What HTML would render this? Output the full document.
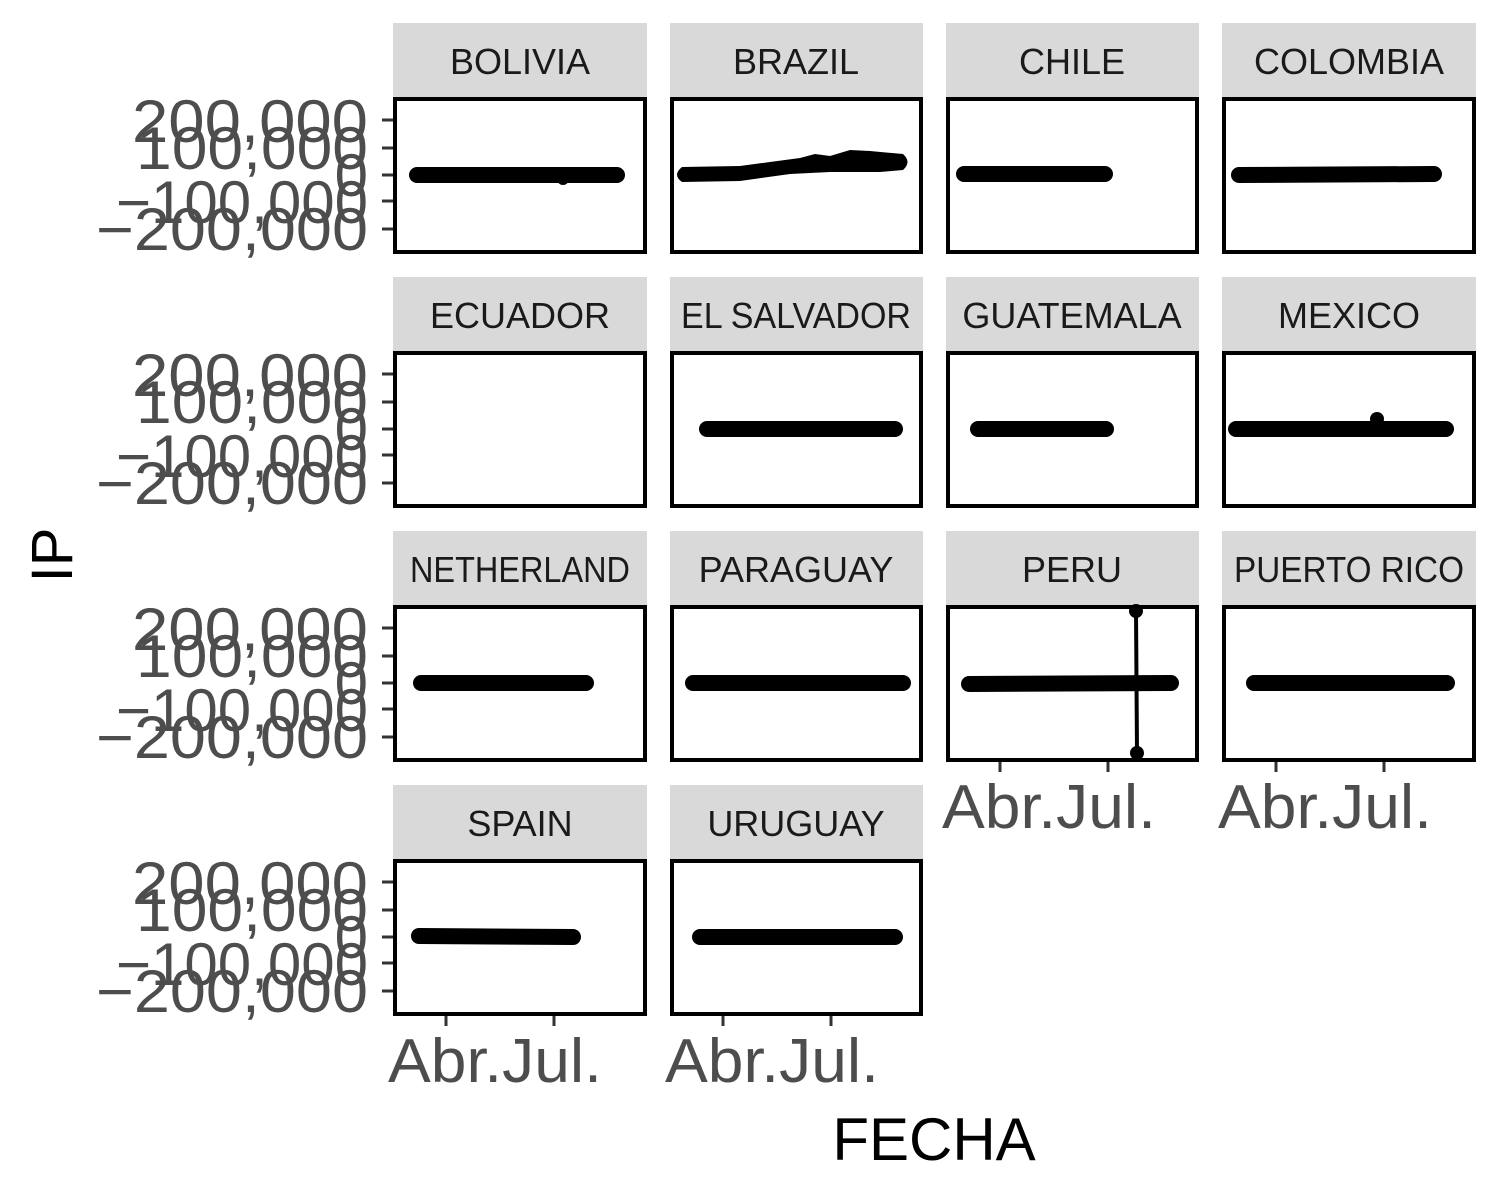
<!DOCTYPE html>
<html><head><meta charset="utf-8"><style>html,body{margin:0;padding:0;background:#fff}svg{display:block}</style></head>
<body>
<svg width="1500" height="1200" viewBox="0 0 1500 1200" xmlns="http://www.w3.org/2000/svg" font-family="'Liberation Sans',sans-serif">
<defs>
<g id="yl" fill="#4d4d4d" font-size="60" text-anchor="end">
<text x="368" y="142" textLength="236" lengthAdjust="spacingAndGlyphs">200,000</text>
<text x="368" y="169" textLength="232" lengthAdjust="spacingAndGlyphs">100,000</text>
<text x="368" y="196">0</text>
<text x="368" y="223" textLength="252" lengthAdjust="spacingAndGlyphs">−100,000</text>
<text x="368" y="250" textLength="272" lengthAdjust="spacingAndGlyphs">−200,000</text>
<g stroke="#333" stroke-width="3"><line x1="382" y1="120" x2="393" y2="120"/><line x1="382" y1="148" x2="393" y2="148"/><line x1="382" y1="175" x2="393" y2="175"/><line x1="382" y1="201" x2="393" y2="201"/><line x1="382" y1="229" x2="393" y2="229"/></g>
</g>
<g id="xl"><g stroke="#333" stroke-width="3"><line x1="52" y1="0" x2="52" y2="10"/><line x1="160" y1="0" x2="160" y2="10"/></g>
<text x="-6" y="66" font-size="62" fill="#4d4d4d" textLength="214" lengthAdjust="spacingAndGlyphs">Abr.Jul.</text></g>
</defs>
<g fill="#d9d9d9">
<rect x="393" y="23" width="254" height="74"/><rect x="670" y="23" width="253" height="74"/><rect x="946" y="23" width="253" height="74"/><rect x="1222" y="23" width="254" height="74"/>
<rect x="393" y="277" width="254" height="74"/><rect x="670" y="277" width="253" height="74"/><rect x="946" y="277" width="253" height="74"/><rect x="1222" y="277" width="254" height="74"/>
<rect x="393" y="531" width="254" height="74"/><rect x="670" y="531" width="253" height="74"/><rect x="946" y="531" width="253" height="74"/><rect x="1222" y="531" width="254" height="74"/>
<rect x="393" y="785" width="254" height="74"/><rect x="670" y="785" width="253" height="74"/>
</g>
<g font-size="36" fill="#1a1a1a" text-anchor="middle">
<text x="520" y="74">BOLIVIA</text><text x="796" y="74">BRAZIL</text><text x="1072" y="74">CHILE</text><text x="1349" y="74">COLOMBIA</text>
<text x="520" y="328">ECUADOR</text><text x="796" y="328" textLength="230" lengthAdjust="spacingAndGlyphs">EL SALVADOR</text><text x="1072" y="328">GUATEMALA</text><text x="1349" y="328">MEXICO</text>
<text x="520" y="582" textLength="220" lengthAdjust="spacingAndGlyphs">NETHERLAND</text><text x="796" y="582">PARAGUAY</text><text x="1072" y="582">PERU</text><text x="1349" y="582" textLength="230" lengthAdjust="spacingAndGlyphs">PUERTO RICO</text>
<text x="520" y="836">SPAIN</text><text x="796" y="836">URUGUAY</text>
</g>
<g fill="none" stroke="#000" stroke-width="4">
<rect x="395" y="99" width="250" height="153"/><rect x="672" y="99" width="249" height="153"/><rect x="948" y="99" width="249" height="153"/><rect x="1224" y="99" width="250" height="153"/>
<rect x="395" y="353" width="250" height="153"/><rect x="672" y="353" width="249" height="153"/><rect x="948" y="353" width="249" height="153"/><rect x="1224" y="353" width="250" height="153"/>
<rect x="395" y="607" width="250" height="153"/><rect x="672" y="607" width="249" height="153"/><rect x="948" y="607" width="249" height="153"/><rect x="1224" y="607" width="250" height="153"/>
<rect x="395" y="861" width="250" height="153"/><rect x="672" y="861" width="249" height="153"/>
</g>
<g stroke="#000" stroke-width="16" stroke-linecap="round">
<line x1="417" y1="175" x2="617" y2="175"/>
<line x1="964" y1="174" x2="1105" y2="174"/>
<line x1="1239" y1="175" x2="1434" y2="174"/>
<line x1="707" y1="429" x2="895" y2="429"/>
<line x1="978" y1="429" x2="1106" y2="429"/>
<line x1="1236" y1="429" x2="1446" y2="429"/>
<line x1="421" y1="683" x2="586" y2="683"/>
<line x1="693" y1="683" x2="903" y2="683"/>
<line x1="969" y1="684" x2="1171" y2="683"/>
<line x1="1254" y1="683" x2="1447" y2="683"/>
<line x1="419" y1="936" x2="573" y2="937"/>
<line x1="700" y1="937" x2="895" y2="937"/>
</g>
<path d="M682,167 L740,166 L770,162 L800,158 L815,154 L830,156 L850,150 L870,151 L903,154 Q912,162 903,170 L880,172 L830,172 L790,174 L740,181 L682,182 Q672,175 682,167 Z" fill="#000"/>
<circle cx="563" cy="179" r="6"/>
<circle cx="1377" cy="419" r="7"/>
<line x1="1136" y1="611" x2="1137" y2="753" stroke="#000" stroke-width="4"/>
<circle cx="1136" cy="611" r="7"/><circle cx="1137" cy="753" r="7"/>
<use href="#yl"/>
<use href="#yl" y="254"/>
<use href="#yl" y="508"/>
<use href="#yl" y="762"/>
<use href="#xl" x="394" y="1016"/>
<use href="#xl" x="671" y="1016"/>
<use href="#xl" x="948" y="762"/>
<use href="#xl" x="1224" y="762"/>
<text x="934" y="1160" font-size="60" fill="#000" text-anchor="middle">FECHA</text>
<text transform="translate(72,555) rotate(-90)" font-size="58" fill="#000" text-anchor="middle">IP</text>
</svg>
</body></html>
